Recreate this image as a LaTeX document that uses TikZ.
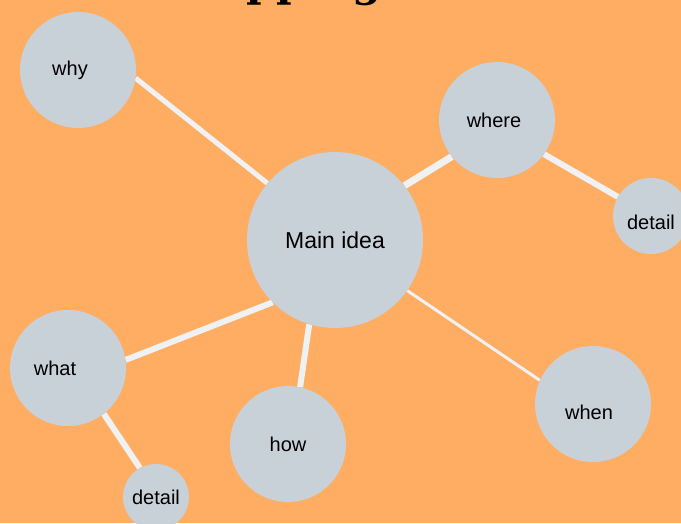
\documentclass[tikz,border=0pt]{standalone}
\usepackage{fontspec}
\setmainfont{Liberation Sans}
\newfontfamily\titlefont{DejaVu Serif}
\usetikzlibrary{backgrounds}
\definecolor{bgorange}{RGB}{255,173,98}
\definecolor{bubblegray}{RGB}{200,208,216}
\definecolor{spokewhite}{RGB}{239,241,243}
\tikzset{
  bubble/.style={circle,fill=bubblegray,inner sep=0pt},
  word/.style={font=\fontsize{20}{23}\selectfont},
  spoke/.style={draw=spokewhite,line width=#1},
}
\begin{document}
\begin{tikzpicture}[x=1pt,y=-1pt]
  \useasboundingbox (0,0) rectangle (681,523);
  \clip (0,0) rectangle (681,523);
  % title, cut off by the top edge
  \node[anchor=base west,inner sep=0pt,font=\titlefont\bfseries\fontsize{42}{48}\selectfont] (title) at (36,-3.5) {Mind Mapping};
  % bubbles
  \node[bubble,minimum size=176pt,label={[font=\fontsize{23}{26}\selectfont]center:Main idea}] (main) at (335,240) {};
  \node[bubble,minimum size=116pt,label={[word,xshift=-8pt]center:why}] (why) at (78,70) {};
  \node[bubble,minimum size=116pt,label={[word,xshift=-3pt]center:where}] (where) at (497,120) {};
  \node[bubble,minimum size=76pt,label={[word,yshift=-6pt]center:detail}] (detailR) at (651,216) {};
  \node[bubble,minimum size=116pt,label={[word,xshift=-13pt]center:what}] (what) at (68,368) {};
  \node[bubble,minimum size=116pt,label={[word]center:how}] (how) at (288,444) {};
  \node[bubble,minimum size=116pt,label={[word,xshift=-4pt,yshift=-8pt]center:when}] (when) at (593,404) {};
  \node[bubble,minimum size=66pt,label={[word]center:detail}] (detailB) at (156,497) {};
  % spokes and background
  \begin{scope}[on background layer]
    \fill[bgorange] (0,0) rectangle (681,523);
    \draw[spoke=5pt] (main.140) -- (why.-8);
    \draw[spoke=7pt] (main.38) -- (where.219);
    \draw[spoke=6pt] (where.-36) -- (detailR.150);
    \draw[spoke=6pt] (main.225) -- (what.8);
    \draw[spoke=6pt] (main.253) -- (how.78);
    \draw[spoke=3pt] (main.-35) -- (when.156);
    \draw[spoke=6pt] (what.-52) -- (detailB.119);
  \end{scope}
\end{tikzpicture}
\end{document}
